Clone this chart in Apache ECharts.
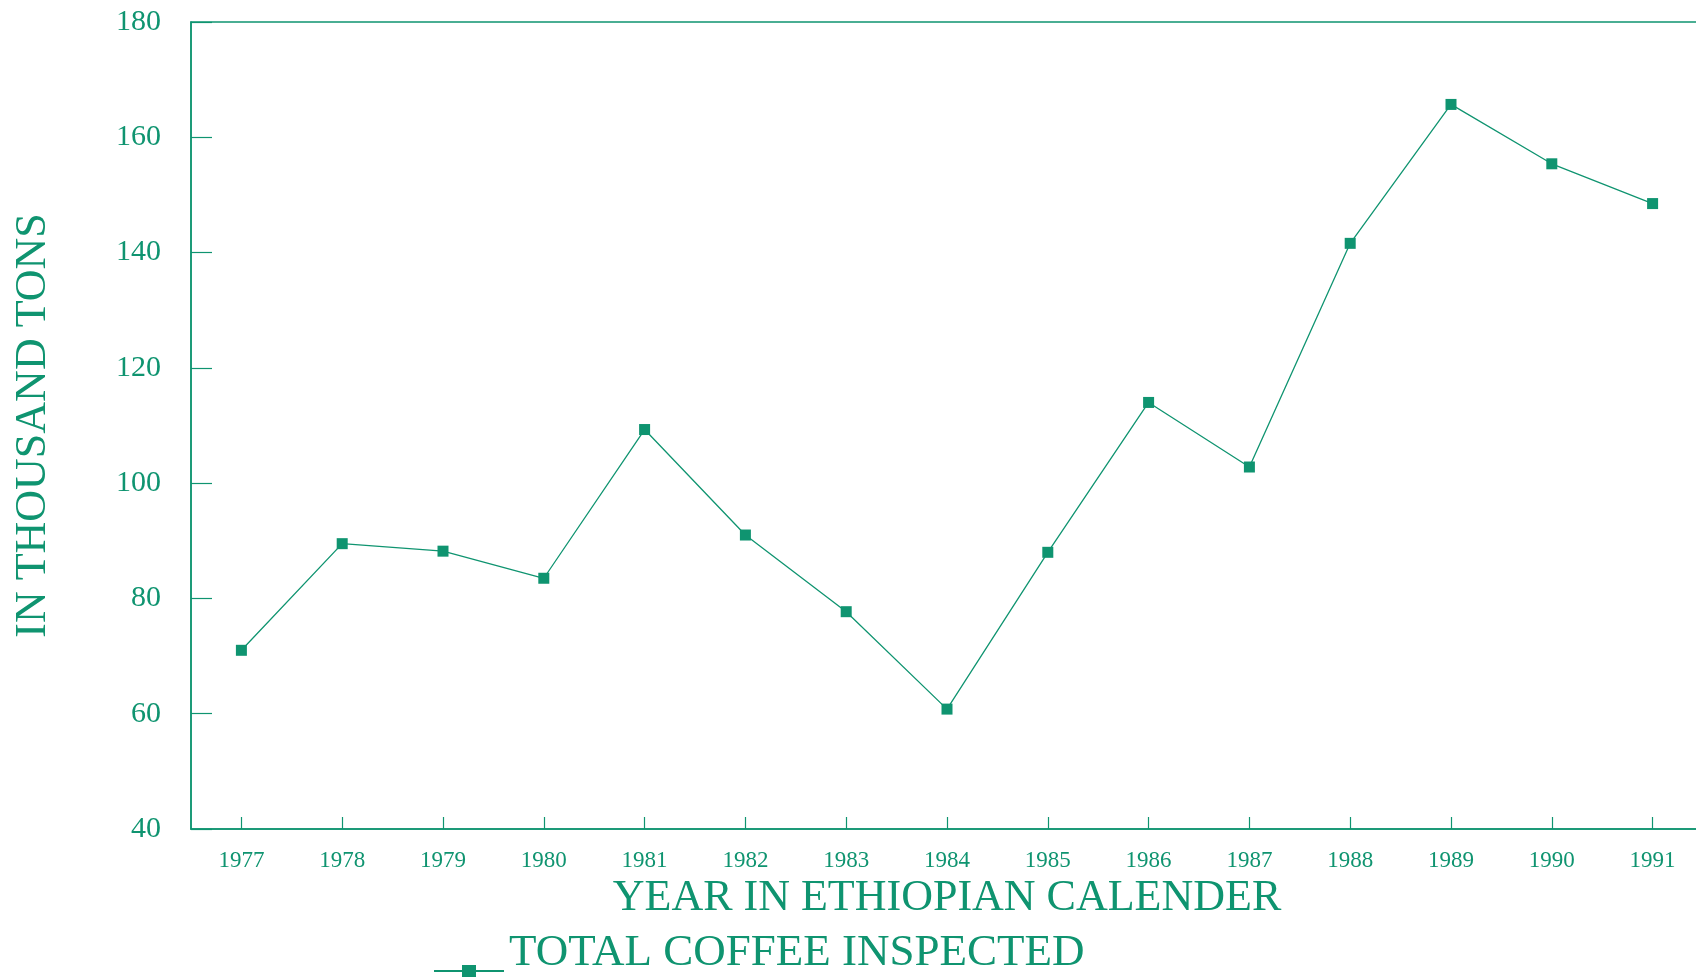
<!DOCTYPE html>
<html>
<head>
<meta charset="utf-8">
<script src="https://cdn.jsdelivr.net/npm/echarts@6/dist/echarts.min.js"></script>
<style>
html,body{margin:0;padding:0;background:#fff;}
#chart{width:1696px;height:978px;}
</style>
</head>
<body>
<div id="chart"></div>
<script>
const years = ['1977','1978','1979','1980','1981','1982','1983','1984','1985','1986','1987','1988','1989','1990','1991'];
const totalCoffeeInspected = [71, 89.5, 88.2, 83.5, 109.3, 91, 77.7, 60.8, 88, 114, 102.8, 141.6, 165.7, 155.4, 148.5];
const seriesName = 'TOTAL COFFEE INSPECTED';
const yTicks = { min: 40, max: 180, interval: 20 };

const green = '#0f9470';
const serif = '"Liberation Serif", "DejaVu Serif", serif';

const chart = echarts.init(document.getElementById('chart'));
chart.setOption({
  backgroundColor: '#ffffff',
  animation: false,
  textStyle: { fontFamily: serif },
  grid: {
    left: 191, top: 22, bottom: 149, width: 1512,
    outerBoundsMode: 'none',
    containLabel: false,
    show: true, borderColor: green, borderWidth: 1.5, backgroundColor: 'transparent'
  },
  legend: {
    bottom: -4, left: 429,
    data: [seriesName],
    itemWidth: 70, itemHeight: 48, itemGap: 14,
    textStyle: { color: green, fontSize: 45, fontFamily: serif },
    icon: 'path://M35,0 L35.01,0 L35,0.01 Z M0,41 L28,41 L28,36 L42,36 L42,41 L70,41 L70,43 L42,43 L42,48 L28,48 L28,43 L0,43 Z'
  },
  xAxis: {
    type: 'category',
    data: years,
    boundaryGap: true,
    name: 'YEAR IN ETHIOPIAN CALENDER',
    nameLocation: 'middle',
    nameGap: 36,
    nameTextStyle: { color: green, fontSize: 44, fontFamily: serif },
    axisLine: { show: true, lineStyle: { color: green, width: 1.5 } },
    axisTick: { show: true, inside: true, alignWithLabel: true, length: 12, lineStyle: { color: green, width: 1.2 } },
    axisLabel: { color: green, fontSize: 23, margin: 20, fontFamily: serif },
    splitLine: { show: false }
  },
  yAxis: {
    type: 'value',
    min: yTicks.min, max: yTicks.max, interval: yTicks.interval,
    name: 'IN THOUSAND TONS',
    nameLocation: 'middle',
    nameGap: 136,
    nameRotate: 90,
    nameTextStyle: { color: green, fontSize: 44, fontFamily: serif },
    axisLine: { show: true, lineStyle: { color: green, width: 1.5 } },
    axisTick: { show: true, inside: true, length: 21, lineStyle: { color: green, width: 1.2 } },
    axisLabel: { color: green, fontSize: 30, margin: 30, fontFamily: serif },
    splitLine: { show: false }
  },
  series: [{
    name: seriesName,
    type: 'line',
    data: totalCoffeeInspected,
    symbol: 'rect',
    symbolSize: 11,
    lineStyle: { color: green, width: 1.3 },
    itemStyle: { color: green },
    emphasis: { disabled: true }
  }]
});
</script>
</body>
</html>
